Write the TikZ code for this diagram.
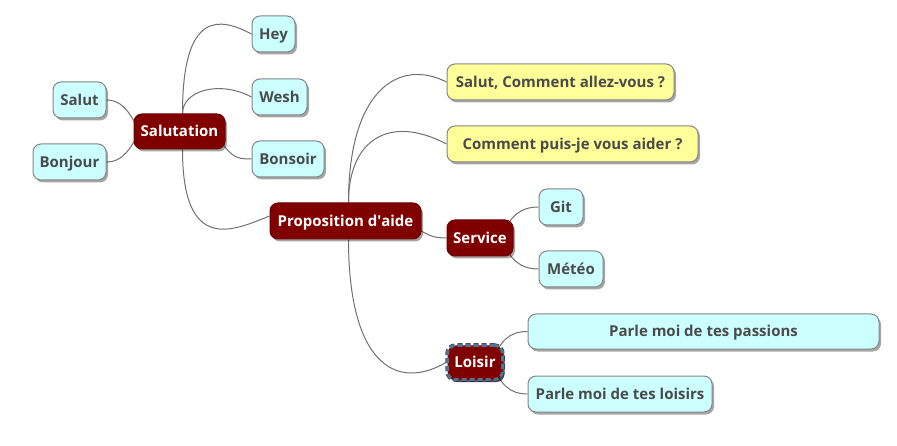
\documentclass[tikz,border=0pt]{standalone}
\usepackage{fontspec}
\setmainfont{Open Sans}
\usetikzlibrary{shadows,backgrounds}
\definecolor{darkred}{HTML}{800000}
\definecolor{cyanfill}{HTML}{CCFFFF}
\definecolor{yellowfill}{HTML}{FFFF99}
\definecolor{textgray}{HTML}{4A4A4A}
\definecolor{bordergray}{HTML}{858585}
\definecolor{edgegray}{HTML}{707070}
\definecolor{dashblue}{HTML}{4E7499}
\tikzset{
  basebox/.style={rounded corners=8pt, inner sep=0pt, minimum height=36pt,
    text height=10.5pt, text depth=0pt,
    font=\bfseries\fontsize{15}{18}\selectfont,
    drop shadow={shadow xshift=2pt, shadow yshift=-2.5pt, opacity=0.35, fill=black}},
  leafbox/.style={basebox, fill=cyanfill, draw=bordergray, line width=1pt, text=textgray},
  askbox/.style={basebox, fill=yellowfill, draw=bordergray, line width=1pt, text=textgray},
  redbox/.style={basebox, fill=darkred, draw=darkred!85!black, line width=1pt, text=white, minimum height=35pt},
  edge/.style={draw=edgegray, line width=1pt}
}
\begin{document}
\begin{tikzpicture}[x=1pt,y=-1pt]
\useasboundingbox (0,0) rectangle (897,446);
% nodes
\node[leafbox, minimum width=43pt] (hey) at (273.5,34) {Hey};
\node[leafbox, minimum width=55pt] (wesh) at (279.5,97) {Wesh};
\node[leafbox, minimum width=72pt] (bonsoir) at (288,159) {Bonsoir};
\node[leafbox, minimum width=53pt] (salut) at (79.5,100) {Salut};
\node[leafbox, minimum width=73pt] (bonjour) at (69.5,162) {Bonjour};
\node[redbox, minimum width=91pt] (sal) at (179.5,131.5) {Salutation};
\node[redbox, minimum width=151pt, minimum height=36pt] (prop) at (345.5,221) {Proposition d\textquotesingle aide};
\node[askbox, minimum width=227pt] (q1) at (560.5,82) {Salut, Comment allez-vous ?};
\node[askbox, minimum width=251pt] (q2) at (572.5,144) {Comment puis-je vous aider ?};
\node[redbox, minimum width=66pt, minimum height=36pt] (serv) at (480,238) {Service};
\node[leafbox, minimum width=44pt] (git) at (561,207) {Git};
\node[leafbox, minimum width=64pt] (meteo) at (571,269) {Météo};
\node[redbox, minimum width=55pt, minimum height=34pt, draw=dashblue, line width=3pt, dash pattern=on 5pt off 3pt,
  preaction={draw=black!70, line width=4.5pt},
  drop shadow={shadow xshift=2pt, shadow yshift=-2.5pt, opacity=0.5, fill=black}] (loisir) at (475,362.5) {Loisir};
\node[leafbox, minimum width=351pt, minimum height=35pt] (pass) at (703.5,331.5) {Parle moi de tes passions};
\node[leafbox, minimum width=184pt] (lois) at (620,394) {Parle moi de tes loisirs};
% connectors
\begin{pgfonlayer}{background}
\draw[edge] ([xshift=3pt]sal.north) .. controls +(0,-103) and +(-32,-17) .. (hey.west);
\draw[edge] ([xshift=3pt]sal.north) .. controls +(0,-23) and +(-32,-17) .. (wesh.west);
\draw[edge] ([xshift=-12pt]sal.east) .. controls +(18,25) and +(-18,0) .. (bonsoir.west);
\draw[edge] (salut.east) .. controls +(22,0) and +(-12,-12) .. ([xshift=12pt,yshift=-6pt]sal.west);
\draw[edge] (bonjour.east) .. controls +(22,0) and +(-12,12) .. ([xshift=12pt,yshift=6pt]sal.west);
\draw[edge] ([xshift=3pt]sal.south) .. controls +(0,106) and +(-35,14) .. ([yshift=5pt]prop.west);
\draw[edge] ([xshift=3pt]prop.north) .. controls +(0,-113) and +(-47,-24) .. (q1.west);
\draw[edge] ([xshift=3pt]prop.north) .. controls +(0,-63) and +(-57,-30) .. (q2.west);
\draw[edge] ([xshift=-15pt]prop.east) .. controls +(20,14) and +(-15,0) .. (serv.west);
\draw[edge] ([xshift=3pt]prop.south) .. controls +(0,121) and +(-52,30) .. (loisir.west);
\draw[edge] ([xshift=-12pt]serv.east) .. controls +(8,-22) and +(-18,0) .. (git.west);
\draw[edge] ([xshift=-12pt]serv.east) .. controls +(8,22) and +(-18,0) .. (meteo.west);
\draw[edge] ([xshift=-12pt]loisir.east) .. controls +(8,-22) and +(-18,0) .. (pass.west);
\draw[edge] ([xshift=-12pt]loisir.east) .. controls +(8,22) and +(-18,0) .. (lois.west);
\end{pgfonlayer}
\end{tikzpicture}
\end{document}
